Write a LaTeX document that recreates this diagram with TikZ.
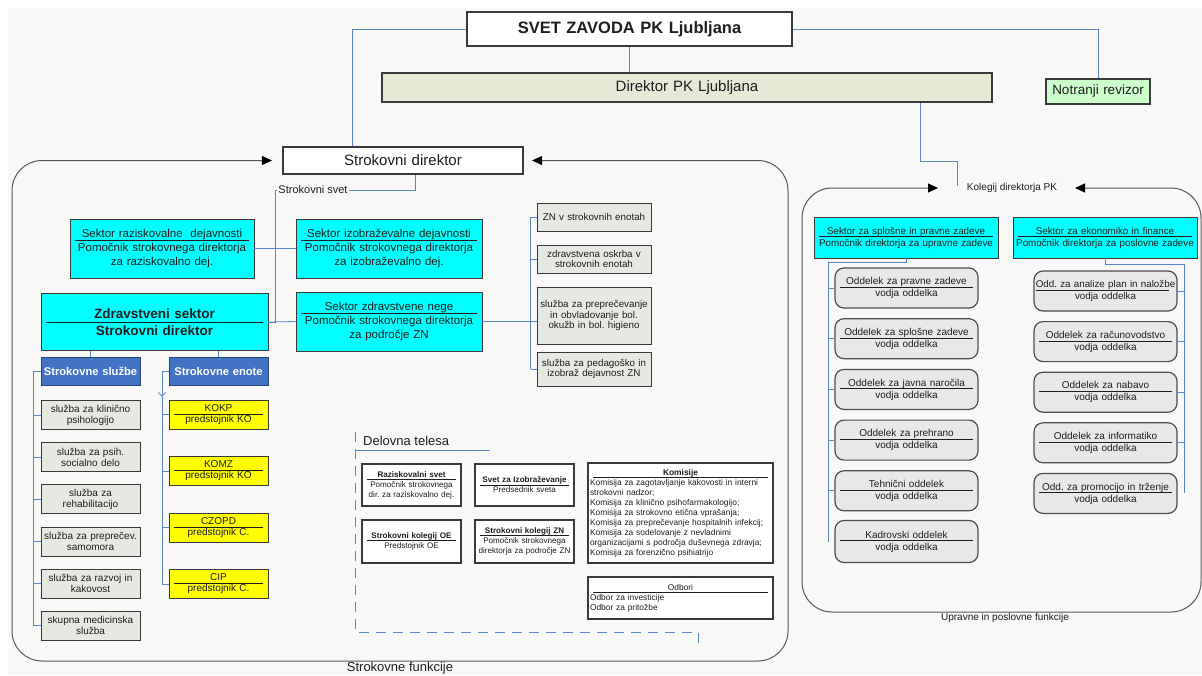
\documentclass[tikz,border=0pt]{standalone}
\usepackage{fontspec}
\setmainfont{Liberation Sans}
\usetikzlibrary{arrows.meta}
\definecolor{bgc}{HTML}{F8F8F6}
\definecolor{busc}{HTML}{5B87C8}
\definecolor{cyanc}{HTML}{00FFFF}
\definecolor{greyc}{HTML}{E6E9E3}
\definecolor{oddc}{HTML}{E8E8E8}
\definecolor{bluec}{HTML}{4472C4}
\definecolor{yelc}{HTML}{FFFF00}
\definecolor{dirc}{HTML}{E4EAD6}
\definecolor{revc}{HTML}{CCFFCC}
\definecolor{edgec}{HTML}{3A3A3A}
\definecolor{txtc}{HTML}{1E1E1E}
\newcommand{\hd}[1]{\makebox[\linewidth]{\hspace{3pt}\rlap{\raisebox{-0.3em}{\rule{\dimexpr\linewidth-6pt\relax}{0.7pt}}}\hfill#1\hfill\hspace{3pt}}}
\newcommand{\fs}[2]{\fontsize{#1}{#2}\selectfont}
\frenchspacing

\begin{document}
\begin{tikzpicture}[x=1pt,y=-1pt,>={Triangle[length=10pt,width=9pt,color=black]},
	sz/.code 2 args={\pgfmathsetmacro\bw{#1-4}\pgfkeysalso{text width=\bw pt,minimum width=#1pt,minimum height=#2pt}},
	box/.style={draw=edgec,line width=0.9pt,inner xsep=2pt,inner ysep=0pt,align=center,text=txtc},
	head/.style={box,fill=white,line width=2.2pt},
	cyanbox/.style={box,fill=cyanc,font=\fs{11.5}{14}},
	greybox/.style={box,fill=greyc,font=\fs{10}{11}},
	bluebox/.style={box,fill=bluec,draw=bluec!60!black,text=white,font=\fs{11.2}{13}\bfseries},
	yelbox/.style={box,fill=yelc,font=\fs{10}{11}},
	telo/.style={box,fill=white,line width=1.2pt,font=\fs{8.1}{10}},
	oddbox/.style={box,fill=oddc,draw=edgec!90,line width=1.2pt,rounded corners=9pt,font=\fs{10}{12}},
	lbl/.style={text=txtc,inner sep=1pt},
	bus/.style={draw=busc,line width=0.8pt},
	frame/.style={draw=edgec!85,line width=1pt,rounded corners=30pt}]
	\fill[white] (0,0) rectangle (1202,675);
	\fill[bgc] (8,8) rectangle (1202,675);
	\useasboundingbox (0,0) rectangle (1202,675);

	\node[head,sz={325}{34},font=\fs{16.5}{18}\bfseries] (svz) at (629.5,29) {SVET ZAVODA PK Ljubljana};
	\node[head,fill=dirc,sz={610}{29},font=\fs{15}{17}] (dir) at (687,87.5) {Direktor PK Ljubljana};
	\node[box,fill=revc,sz={104}{25},font=\fs{13.5}{15},line width=1.2pt] (rev) at (1098,91.5) {Notranji revizor};
	\node[head,sz={240}{27},font=\fs{15}{17}] (sdir) at (403,160.5) {Strokovni direktor};
	\node[lbl,font=\fs{11}{13}] (svet) at (313,190) {Strokovni svet};
	\node[lbl,font=\fs{10}{12}] (kolegij) at (1012,188) {Kolegij direktorja PK};

	\node[cyanbox,sz={184}{59}] (srd) at (162,248.5) {\hd{Sektor raziskovalne\ \ dejavnosti}\\Pomočnik strokovnega direktorja\\za raziskovalno dej.};
	\node[cyanbox,sz={186}{59}] (sid) at (389,248.5) {\hd{Sektor izobraževalne dejavnosti}\\Pomočnik strokovnega direktorja\\za izobraževalno dej.};
	\node[cyanbox,sz={227}{57},font=\fs{13.5}{16.5}\bfseries] (zs) at (154.5,322) {\hd{Zdravstveni sektor}\\Strokovni direktor};
	\node[cyanbox,sz={186}{59}] (szn) at (389,321.5) {\hd{Sektor zdravstvene nege}\\Pomočnik strokovnega direktorja\\za področje ZN};

	\node[greybox,sz={114}{28},font=\fs{9.8}{10.5}] (zn1) at (594,217) {ZN v strokovnih enotah};
	\node[greybox,sz={114}{28},font=\fs{9.8}{10.5}] (zn2) at (594,259) {zdravstvena oskrba v\\strokovnih enotah};
	\node[greybox,sz={114}{57},font=\fs{9.8}{10.5}] (zn3) at (594,315.5) {služba za preprečevanje\\in obvladovanje bol.\\okužb in bol. higieno};
	\node[greybox,sz={114}{34},font=\fs{9.8}{10.5}] (zn4) at (594,369) {služba za pedagoško in\\izobraž dejavnost ZN};

	\node[bluebox,sz={99}{28}] (ssl) at (90.5,371) {Strokovne službe};
	\node[bluebox,sz={99}{28}] (sen) at (218.5,371) {Strokovne enote};
	\node[greybox,sz={99}{29}] (s1) at (90.5,415) {služba za klinično\\psihologijo};
	\node[greybox,sz={99}{29}] (s2) at (90.5,457) {služba za psih.\\socialno delo};
	\node[greybox,sz={99}{29}] (s3) at (90.5,499) {služba za\\rehabilitacijo};
	\node[greybox,sz={99}{29}] (s4) at (90.5,541.5) {služba za preprečev.\\samomora};
	\node[greybox,sz={99}{29}] (s5) at (90.5,583.5) {služba za razvoj in\\kakovost};
	\node[greybox,sz={99}{29}] (s6) at (90.5,625.5) {skupna medicinska\\služba};
	\node[yelbox,sz={99}{29}] (e1) at (218.5,414.5) {\hd{KOKP}\\predstojnik KO};
	\node[yelbox,sz={99}{29}] (e2) at (218.5,471) {\hd{KOMZ}\\predstojnik KO};
	\node[yelbox,sz={99}{29}] (e3) at (218.5,527.5) {\hd{CZOPD}\\predstojnik C.};
	\node[yelbox,sz={99}{29}] (e4) at (218.5,584) {\hd{CIP}\\predstojnik C.};

	\node[lbl,font=\fs{13}{15},anchor=west] (dtel) at (362,441) {Delovna telesa};
	\node[telo,sz={99}{42}] (rs) at (411.5,485) {\hd{\textbf{Raziskovalni svet}}\\Pomočnik strokovnega\\dir. za raziskovalno dej.};
	\node[telo,sz={99}{42}] (si) at (524.5,485) {\hd{\textbf{Svet za Izobraževanje}}\\Predsednik sveta};
	\node[telo,sz={99}{43}] (ko) at (411.5,541.5) {\hd{\textbf{Strokovni kolegij OE}}\\Predstojnik OE};
	\node[telo,sz={99}{43}] (kz) at (524.5,541.5) {\hd{\textbf{Strokovni kolegij ZN}}\\Pomočnik strokovnega\\direktorja za področje ZN};
	\node[telo,sz={185}{100},align=left,font=\fs{8.4}{10}] (kom) at (680.5,513) {\hd{\textbf{Komisije}}\\Komisija za zagotavljanje kakovosti in interni\\strokovni nadzor;\\Komisija za klinično psihofarmakologijo;\\Komisija za strokovno etična vprašanja;\\Komisija za preprečevanje hospitalnih infekcij;\\Komisija za sodelovanje z nevladnimi\\organizacijami s področja duševnega zdravja;\\Komisija za forenzično psihiatrijo};
	\node[telo,sz={185}{42},align=left,font=\fs{8.4}{10}] (odb) at (680.5,598) {\hd{Odbori}\\Odbor za investicije\\Odbor za pritožbe};

	\node[cyanbox,sz={184}{41},font=\fs{9.8}{12}] (sup) at (906,237.5) {\hd{Sektor za splošne in pravne zadeve}\\Pomočnik direktorja za upravne zadeve};
	\node[cyanbox,sz={184}{41},font=\fs{9.8}{12}] (sek) at (1105,237.5) {\hd{Sektor za ekonomiko in finance}\\Pomočnik direktorja za poslovne zadeve};
	\node[oddbox,sz={143}{40}] (o1) at (906.5,288) {\hd{Oddelek za pravne zadeve}\\vodja oddelka};
	\node[oddbox,sz={143}{40}] (o2) at (906.5,338.7) {\hd{Oddelek za splošne zadeve}\\vodja oddelka};
	\node[oddbox,sz={143}{40}] (o3) at (906.5,389.4) {\hd{Oddelek za javna naročila}\\vodja oddelka};
	\node[oddbox,sz={143}{40}] (o4) at (906.5,440.1) {\hd{Oddelek za prehrano}\\vodja oddelka};
	\node[oddbox,sz={143}{40}] (o5) at (906.5,490.8) {\hd{Tehnični oddelek}\\vodja oddelka};
	\node[oddbox,sz={143}{42}] (o6) at (906.5,541.5) {\hd{Kadrovski oddelek}\\vodja oddelka};
	\node[oddbox,sz={143}{40},font=\fs{9.8}{12}] (p1) at (1105.5,291) {\hd{Odd. za analize plan in naložbe}\\vodja oddelka};
	\node[oddbox,sz={143}{40}] (p2) at (1105.5,341.6) {\hd{Oddelek za računovodstvo}\\vodja oddelka};
	\node[oddbox,sz={143}{40}] (p3) at (1105.5,392.2) {\hd{Oddelek za nabavo}\\vodja oddelka};
	\node[oddbox,sz={143}{40}] (p4) at (1105.5,442.8) {\hd{Oddelek za informatiko}\\vodja oddelka};
	\node[oddbox,sz={143}{40}] (p5) at (1105.5,493.4) {\hd{Odd. za promocijo in trženje}\\vodja oddelka};

	\node[lbl,font=\fs{13}{15},anchor=north,inner sep=0pt] (sfunk) at (400,662) {Strokovne funkcije};
	\node[lbl,font=\fs{10}{12}] (ufunk) at (1005,618) {Upravne in poslovne funkcije};

	\draw[bus] (svz.west) -| ([xshift=-51]sdir.north);
	\draw[bus] (svz.east) -| (rev.north);
	\draw[bus] (svz.south) -- (dir.north -| svz.south);
	\coordinate (kol) at (957,186);
	\draw[bus] ([xshift=233]dir.south) -- ++(0,58) -| (kol);
	\draw[bus] ([xshift=12]sdir.south) |- (svet.east);
	\draw[bus] (svet.west) -- ++(-2,0) |- (zs.east);
	\draw[bus] (zs.east) -- (szn.west);
	\draw[bus] (srd.east) -- (sid.west);
	\draw[bus] (szn.east) -- (szn.east -| zn3.west);
	\draw[bus] ([xshift=-6]zn1.west) -- ([xshift=-6]zn4.west);
	\draw[bus] (zn1.west) -- ++(-6,0);
	\draw[bus] (zn2.west) -- ++(-6,0);
	\draw[bus] (zn4.west) -- ++(-6,0);

	\draw[bus] (zs.south -| ssl.north) -- (ssl.north);
	\draw[bus] (zs.south -| sen.north) -- (sen.north);
	\draw[bus] (ssl.west) -- ++(-7,0) |- (s6.west);
	\draw[bus] (s1.west) -- ++(-7,0);
	\draw[bus] (s2.west) -- ++(-7,0);
	\draw[bus] (s3.west) -- ++(-7,0);
	\draw[bus] (s4.west) -- ++(-7,0);
	\draw[bus] (s5.west) -- ++(-7,0);
	\coordinate (ev) at (162,397);
	\draw[bus,-{Straight Barb[length=4pt,width=7pt]}] (sen.west) -| (ev);
	\draw[bus] (ev) |- (e4.west);
	\draw[bus] (e1.west) -- ++(-7,0);
	\draw[bus] (e2.west) -- ++(-7,0);
	\draw[bus] (e3.west) -- ++(-7,0);

	\draw[bus] (sup.south) -- ++(0,4) -| ([xshift=-6]o6.west);
	\draw[bus] (o1.west) -- ++(-6,0);
	\draw[bus] (o2.west) -- ++(-6,0);
	\draw[bus] (o3.west) -- ++(-6,0);
	\draw[bus] (o4.west) -- ++(-6,0);
	\draw[bus] (o5.west) -- ++(-6,0);
	\draw[bus] (sek.south) -- ++(0,6) -| ([xshift=7]p5.east);
	\draw[bus] (p1.east) -- ++(7,0);
	\draw[bus] (p2.east) -- ++(7,0);
	\draw[bus] (p3.east) -- ++(7,0);
	\draw[bus] (p4.east) -- ++(7,0);

	\draw[bus,dash pattern=on 10pt off 7pt] (355,432) -- (355,632) -- (698,632) -- (698,646);
	\draw[bus] (355,450) -- (490,450);

	\draw[frame,<->,shorten <=8pt,shorten >=10pt] (sdir.east) -- (788,160.5) -- (788,661) -- (12,661) -- (12,160.5) -- (sdir.west);
	\coordinate (kl) at (938,188);
	\coordinate (kr) at (1075,188);
	\draw[frame,<->] (kl) -- (802,188) -- (802,612) -- (1201,612) -- (1201,188) -- (kr);
\end{tikzpicture}
\end{document}
